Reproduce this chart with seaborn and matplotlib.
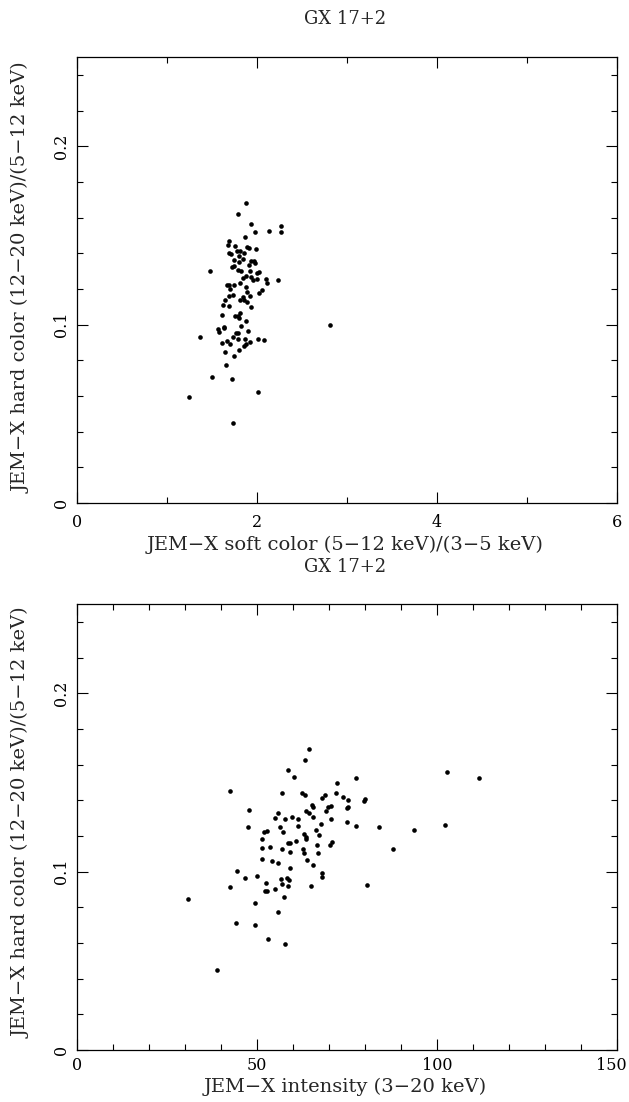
import numpy as np
import pandas as pd
import seaborn as sns
from matplotlib import pyplot as plt
from matplotlib.ticker import MultipleLocator, FuncFormatter
from matplotlib.transforms import ScaledTranslation

# GX 17+2 JEM-X colours
soft_color = [
    1.874, 1.793, 1.937, 2.270, 2.270, 2.133, 1.974, 1.863, 1.693, 1.678,
    1.752, 1.892, 1.907, 1.993, 1.774, 1.811, 1.856, 1.689, 1.715, 1.800,
    1.741, 1.848, 1.800, 1.933, 1.967, 1.981, 1.907, 1.748, 1.726, 1.474,
    1.789, 1.819, 1.922, 2.004, 2.022, 1.881, 1.933, 1.844, 1.959, 2.004,
    2.104, 2.237, 2.115, 1.811, 1.663, 1.693, 1.741, 1.700, 1.874, 1.892,
    2.059, 2.026, 1.685, 1.733, 1.922, 1.844, 1.648, 1.811, 1.856, 1.885,
    1.626, 1.693, 1.930, 1.607, 1.807, 1.785, 1.756, 1.804, 1.878, 1.826,
    1.633, 1.637, 1.563, 1.581, 1.896, 1.763, 1.785, 1.370, 1.733, 1.793,
    1.867, 2.007, 2.082, 1.663, 1.922, 1.607, 1.696, 1.878, 1.852, 1.641,
    1.800, 1.748, 1.659, 1.500, 1.719, 2.011, 1.248, 1.733, 2.811,
]
hard_color_top = [
    0.1680, 0.1620, 0.1566, 0.1555, 0.1521, 0.1525, 0.1521, 0.1493, 0.1469, 0.1447,
    0.1440, 0.1437, 0.1428, 0.1423, 0.1412, 0.1413, 0.1404, 0.1402, 0.1393, 0.1387,
    0.1363, 0.1369, 0.1352, 0.1358, 0.1358, 0.1343, 0.1335, 0.1330, 0.1324, 0.1302,
    0.1305, 0.1300, 0.1298, 0.1292, 0.1294, 0.1274, 0.1268, 0.1263, 0.1250, 0.1253,
    0.1255, 0.1250, 0.1231, 0.1235, 0.1222, 0.1220, 0.1220, 0.1201, 0.1208, 0.1184,
    0.1194, 0.1175, 0.1162, 0.1166, 0.1160, 0.1153, 0.1138, 0.1138, 0.1140, 0.1125,
    0.1110, 0.1102, 0.1099, 0.1056, 0.1065, 0.1050, 0.1046, 0.1037, 0.1021, 0.0993,
    0.0989, 0.0979, 0.0974, 0.0961, 0.0966, 0.0955, 0.0951, 0.0933, 0.0929, 0.0920,
    0.0922, 0.0922, 0.0916, 0.0909, 0.0903, 0.0899, 0.0890, 0.0892, 0.0881, 0.0845,
    0.0856, 0.0823, 0.0773, 0.0708, 0.0697, 0.0620, 0.0594, 0.0447, 0.1000,
]

intensity = [
    64.44, 63.24, 58.52, 60.37, 77.41, 102.8, 111.8, 42.41, 72.31, 56.94,
    62.41, 63.43, 68.89, 71.94, 73.80, 75.19, 67.96, 79.81, 80.09, 65.37,
    65.46, 69.63, 70.46, 74.91, 75.19, 69.26, 47.78, 55.83, 63.61, 64.54,
    65.56, 54.91, 57.69, 59.81, 61.30, 70.46, 75.00, 47.59, 56.30, 61.39,
    67.68, 77.59, 83.80, 93.52, 102.2, 52.04, 52.78, 57.22, 66.30, 63.15,
    67.13, 63.52, 63.61, 51.39, 60.93, 58.52, 59.07, 70.83, 70.28, 66.67,
    53.70, 51.30, 56.85, 62.87, 59.07, 62.96, 66.85, 87.69, 51.39, 54.26,
    55.83, 63.89, 65.65, 59.26, 44.44, 50.09, 46.57, 56.67, 58.43, 58.98,
    68.15, 68.15, 52.59, 57.04, 58.70, 64.91, 80.65, 42.50, 52.22, 52.78,
    54.91, 57.41, 30.83, 49.54, 55.83, 44.17, 49.35, 52.96, 57.87, 38.80,
]
hard_color_bot = [
    0.1686, 0.1624, 0.1570, 0.1529, 0.1525, 0.1558, 0.1525, 0.1450, 0.1497, 0.1443,
    0.1441, 0.1428, 0.1429, 0.1439, 0.1420, 0.1403, 0.1411, 0.1398, 0.1407, 0.1373,
    0.1360, 0.1360, 0.1368, 0.1358, 0.1364, 0.1338, 0.1343, 0.1330, 0.1340, 0.1327,
    0.1308, 0.1299, 0.1297, 0.1306, 0.1297, 0.1293, 0.1278, 0.1250, 0.1252, 0.1257,
    0.1265, 0.1257, 0.1250, 0.1232, 0.1261, 0.1224, 0.1228, 0.1224, 0.1235, 0.1211,
    0.1205, 0.1192, 0.1181, 0.1185, 0.1172, 0.1162, 0.1159, 0.1166, 0.1147, 0.1151,
    0.1138, 0.1131, 0.1128, 0.1127, 0.1112, 0.1104, 0.1103, 0.1125, 0.1073, 0.1058,
    0.1048, 0.1063, 0.1039, 0.1022, 0.1003, 0.0977, 0.0964, 0.0959, 0.0962, 0.0955,
    0.0994, 0.0968, 0.0936, 0.0929, 0.0921, 0.0919, 0.0923, 0.0912, 0.0891, 0.0891,
    0.0902, 0.0859, 0.0848, 0.0826, 0.0774, 0.0710, 0.0699, 0.0620, 0.0594, 0.0448,
]

top_df = pd.DataFrame({"soft": soft_color, "hard": hard_color_top})
bot_df = pd.DataFrame({"intensity": intensity, "hard": hard_color_bot})

sns.set_style("ticks")
plt.rcParams["font.family"] = ["DejaVu Serif"]
plt.rcParams["axes.linewidth"] = 0.9

W, H = 629, 1102
fig = plt.figure(figsize=(W / 100, H / 100), dpi=100)
ax1 = fig.add_axes([77 / W, (H - 503) / H, 540 / W, 446 / H])
ax2 = fig.add_axes([77 / W, (H - 1050) / H, 540 / W, 446 / H])


def fmt(v, pos):
    return "0" if abs(v) < 1e-9 else f"{v:g}"


def style_axes(ax, xmax, xmajor, xminor, xpad):
    ax.set_xlim(0, xmax)
    ax.set_ylim(0, 0.25)
    ax.xaxis.set_major_locator(MultipleLocator(xmajor))
    ax.xaxis.set_minor_locator(MultipleLocator(xminor))
    ax.yaxis.set_major_locator(MultipleLocator(0.1))
    ax.yaxis.set_minor_locator(MultipleLocator(0.02))
    ax.xaxis.set_major_formatter(FuncFormatter(fmt))
    ax.yaxis.set_major_formatter(FuncFormatter(fmt))
    for s in ax.spines.values():
        s.set_visible(True)
        s.set_color("black")
    ax.tick_params(which="both", direction="in", top=True, right=True,
                   colors="black", width=0.8, labelsize=11.5)
    ax.tick_params(which="major", length=8)
    ax.tick_params(which="minor", length=4)
    ax.tick_params(axis="x", pad=xpad)
    ax.tick_params(axis="y", pad=5)
    for lab in ax.get_yticklabels():
        lab.set_rotation(90)
        lab.set_va("center")
    ax.set_xlabel("")
    ax.set_ylabel("")


sns.scatterplot(data=top_df, x="soft", y="hard", ax=ax1, color="black",
                s=11, linewidth=0, legend=False)
style_axes(ax1, 6, 2, 1, 8)

sns.scatterplot(data=bot_df, x="intensity", y="hard", ax=ax2, color="black",
                s=11, linewidth=0, legend=False)
style_axes(ax2, 150, 50, 10, 5)

# the last intensity label sits against the right edge of the page
fig.canvas.draw()
last = ax2.xaxis.get_major_ticks()[-1]
for t in ax2.xaxis.get_major_ticks():
    if abs(t.get_loc() - 150) < 1e-6:
        last = t
last.label1.set_transform(last.label1.get_transform()
                          + ScaledTranslation(-6 / 100, 0, fig.dpi_scale_trans))

tx = 345 / W
fig.text(tx, 1 - 19 / H, "GX 17+2", ha="center", va="center", fontsize=13)
fig.text(tx, 1 - 545 / H, "JEM\u2212X soft color (5\u221212 keV)/(3\u22125 keV)",
         ha="center", va="center", fontsize=14)
fig.text(tx, 1 - 567 / H, "GX 17+2", ha="center", va="center", fontsize=13)
fig.text(tx, 1 - 1087 / H, "JEM\u2212X intensity (3\u221220 keV)",
         ha="center", va="center", fontsize=14)

ylab = "JEM\u2212X hard color (12\u221220 keV)/(5\u221212 keV)"
fig.text(22 / W, 1 - 278 / H, ylab, rotation=90, ha="center", va="center", fontsize=14)
fig.text(22 / W, 1 - 823 / H, ylab, rotation=90, ha="center", va="center", fontsize=14)

plt.savefig("out.png", dpi=100)
